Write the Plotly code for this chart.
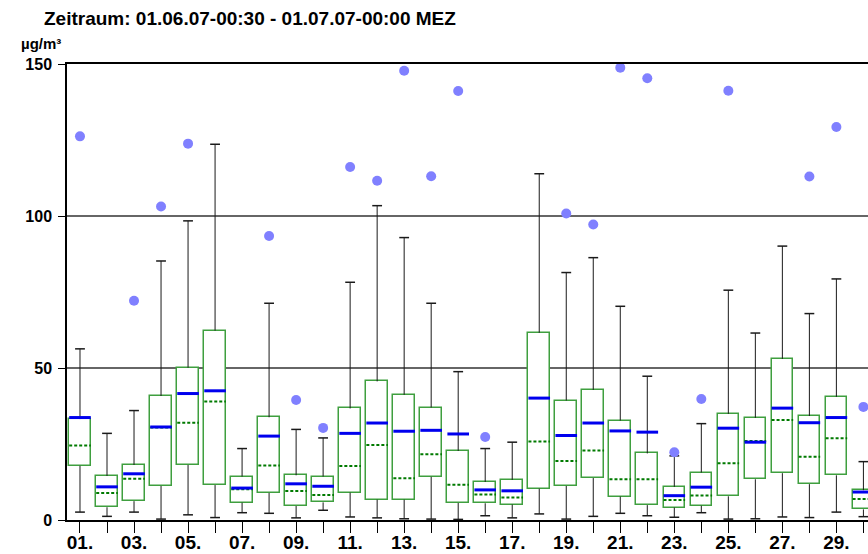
import plotly.graph_objects as go

days = list(range(1, 31))
tick_text = [f"{d:02d}." if d % 2 == 1 else "" for d in days]

whisker_high = [56.3, 28.5, 36.0, 85.2, 98.4, 123.6, 23.5, 71.3, 29.8, 27.0,
                78.2, 103.4, 92.9, 71.3, 48.8, 23.5, 25.6, 113.9, 81.4, 86.3,
                70.3, 47.3, 21.1, 31.7, 75.6, 61.5, 90.1, 67.9, 79.3, 19.2]
q3 = [33.2, 14.5, 18.1, 40.8, 50.1, 62.3, 14.3, 33.8, 14.7, 14.3,
      36.7, 45.6, 41.2, 37.0, 22.7, 12.5, 13.2, 61.6, 39.3, 42.8,
      32.7, 21.9, 10.9, 15.6, 34.9, 33.6, 53.0, 34.2, 40.5, 9.8]
mean = [33.7, 10.9, 15.2, 30.6, 41.6, 42.5, 10.5, 27.6, 11.9, 11.1,
        28.5, 31.9, 29.2, 29.5, 28.3, 9.9, 9.6, 40.1, 27.8, 31.9,
        29.3, 28.9, 8.0, 10.8, 30.2, 25.6, 36.8, 32.0, 33.7, 9.2]
median = [24.5, 8.9, 13.6, 30.4, 32.0, 39.0, 10.1, 17.9, 9.5, 8.2,
          17.8, 24.7, 13.7, 21.6, 11.6, 8.4, 7.4, 25.8, 19.4, 22.9,
          13.4, 13.4, 6.6, 8.1, 18.7, 26.0, 32.9, 20.8, 26.9, 6.9]
q1 = [17.8, 4.2, 6.2, 11.2, 18.1, 11.5, 5.7, 8.9, 4.6, 5.8,
      9.0, 6.7, 6.7, 14.2, 5.6, 5.5, 5.1, 10.3, 11.2, 13.8,
      7.7, 4.9, 4.1, 4.7, 7.8, 13.4, 15.4, 11.8, 14.7, 3.5]
whisker_low = [2.6, 1.2, 2.6, 0.3, 1.7, 0.8, 2.4, 2.2, 0.7, 3.2,
               1.0, 0.7, 0.4, 0.3, 0.2, 1.4, 0.7, 2.0, 0.3, 1.2,
               2.2, 1.4, 0.9, 2.4, 0.3, 0.4, 1.0, 0.8, 2.6, 1.1]
maximum = [126.2, None, 72.1, 103.1, 123.8, None, None, 93.4, 39.5, 30.3,
           116.1, 111.6, 147.8, 113.1, 141.1, 27.3, None, None, 100.8, 97.2,
           148.8, 145.3, 22.3, 39.8, 141.2, None, None, 113.0, 129.3, 37.2]

BOX_W = 0.8
HALF = BOX_W / 2
FONT = "Liberation Sans, Arial, sans-serif"


def segments_vertical(xs, y0s, y1s):
    X, Y = [], []
    for x, a, b in zip(xs, y0s, y1s):
        X += [x, x, None]
        Y += [a, b, None]
    return X, Y


def segments_horizontal(xs, ys):
    X, Y = [], []
    for x, y in zip(xs, ys):
        X += [x - HALF, x + HALF, None]
        Y += [y, y, None]
    return X, Y


fig = go.Figure()

# boxes (q1..q3)
fig.add_trace(go.Bar(
    x=days, y=[b - a for a, b in zip(q1, q3)], base=q1, width=BOX_W,
    marker=dict(color="white", line=dict(color="#3f9f3f", width=1.5)),
    hoverinfo="skip", showlegend=False))

# whiskers
wx, wy = segments_vertical(days + days, q3 + q1, whisker_high + whisker_low)
fig.add_trace(go.Scatter(x=wx, y=wy, mode="lines",
                         line=dict(color="#1a1a1a", width=1),
                         hoverinfo="skip", showlegend=False))
# whisker caps
fig.add_trace(go.Scatter(x=days + days, y=whisker_high + whisker_low, mode="markers",
                         marker=dict(symbol="line-ew", size=7,
                                     line=dict(color="#1a1a1a", width=1.5)),
                         hoverinfo="skip", showlegend=False))

# median (dotted green)
mx, my = segments_horizontal(days, median)
fig.add_trace(go.Scatter(x=mx, y=my, mode="lines",
                         line=dict(color="#007a00", width=2, dash="3px,2px"),
                         hoverinfo="skip", showlegend=False))

# mean (solid blue)
ax_, ay_ = segments_horizontal(days, mean)
fig.add_trace(go.Scatter(x=ax_, y=ay_, mode="lines",
                         line=dict(color="#0000ee", width=3),
                         hoverinfo="skip", showlegend=False))

# maximum dots
fig.add_trace(go.Scatter(x=days, y=maximum, mode="markers",
                         marker=dict(color="#8080ff", size=10),
                         hoverinfo="skip", showlegend=False))

fig.update_layout(
    width=868, height=554,
    margin=dict(l=67, r=0, t=64, b=34, autoexpand=False),
    paper_bgcolor="white", plot_bgcolor="white",
    font=dict(family=FONT, color="black"),
    title=dict(text="<b>Zeitraum: 01.06.07-00:30 - 01.07.07-00:00 MEZ</b>",
               xref="container", yref="container", x=44 / 868, xanchor="left",
               y=1 - 12 / 554, yanchor="top", automargin=False,
               font=dict(size=19, family=FONT)),
    bargap=0, showlegend=False,
    xaxis=dict(range=[0.519, 30.17], tickmode="array", tickvals=days,
               ticktext=[f"<b>{t}</b>" if t else "" for t in tick_text],
               ticks="outside", ticklen=11, tickcolor="black", tickwidth=1,
               ticklabelstandoff=-7, automargin=False,
               tickfont=dict(size=19, family=FONT),
               showgrid=False, zeroline=False, showline=True, linecolor="black",
               linewidth=1.5, mirror=True),
    yaxis=dict(range=[0, 150], tickmode="array", tickvals=[0, 50, 100, 150],
               ticktext=["<b>0</b>", "<b>50</b>", "<b>100</b>", "<b>150</b>"],
               ticks="outside", ticklen=7, tickcolor="black", tickwidth=1,
               ticklabelstandoff=3, automargin=False,
               tickfont=dict(size=16, family=FONT),
               showgrid=True, gridcolor="#666666", gridwidth=1.5,
               zeroline=False, showline=True, linecolor="black", linewidth=1.5),
    annotations=[dict(text="<b>µg/m³</b>", xref="paper", yref="paper",
                      x=(19 - 67) / 801, y=1 + (64 - 43) / 456,
                      xanchor="left", yanchor="middle", showarrow=False,
                      font=dict(size=15, family=FONT))],
)

fig.write_html("out.html", config={"displayModeBar": False},
               post_script="document.body.style.margin='0';document.body.style.overflow='hidden';")
